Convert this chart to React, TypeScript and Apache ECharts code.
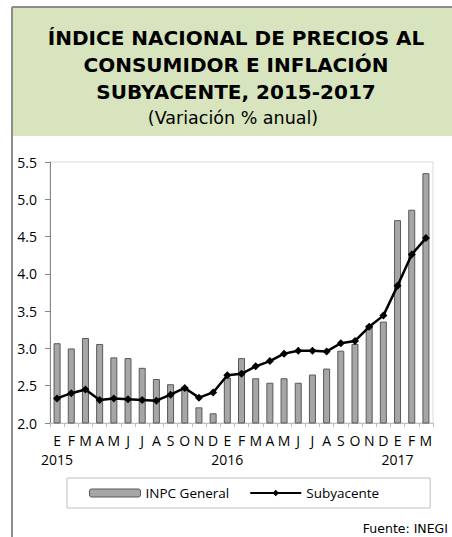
import React, { useEffect, useRef } from "react";
import * as echarts from "echarts";

const months = ["E", "F", "M", "A", "M", "J", "J", "A", "S", "O", "N", "D",
  "E", "F", "M", "A", "M", "J", "J", "A", "S", "O", "N", "D",
  "E", "F", "M"];
const years: Record<number, string> = { 0: "2015", 12: "2016", 24: "2017" };
const inpcGeneral = [3.07, 3.00, 3.14, 3.06, 2.88, 2.87, 2.74, 2.59, 2.52, 2.48, 2.21, 2.13,
  2.61, 2.87, 2.60, 2.54, 2.60, 2.54, 2.65, 2.73, 2.97, 3.06, 3.31, 3.36,
  4.72, 4.86, 5.35];
const subyacente = [2.33, 2.40, 2.45, 2.31, 2.33, 2.32, 2.31, 2.30, 2.38, 2.47, 2.34, 2.41,
  2.64, 2.66, 2.76, 2.83, 2.93, 2.97, 2.97, 2.96, 3.07, 3.10, 3.29, 3.44,
  3.84, 4.26, 4.48];
const titleLines = ["ÍNDICE NACIONAL DE PRECIOS AL", "CONSUMIDOR E INFLACIÓN", "SUBYACENTE, 2015-2017"];
const subtitle = "(Variación % anual)";
const source = "Fuente: INEGI";

const FONT = "'Open Sans', Lato, sans-serif";
const TFONT = "'DejaVu Sans', 'Open Sans', sans-serif";

export default function App() {
  const ref = useRef<HTMLDivElement>(null);
  useEffect(() => {
    if (!ref.current) return;
    const chart = echarts.init(ref.current, null, { renderer: "svg" });
    const titleY = [38, 65, 92];
    chart.setOption({
      animation: false,
      textStyle: { fontFamily: FONT },
      graphic: [
        { type: "rect", shape: { x: 12, y: 7, width: 445, height: 129 }, style: { fill: "#d7e4bd" }, z: 0 },
        { type: "line", shape: { x1: 12, y1: 7, x2: 452, y2: 7 }, style: { stroke: "#8c8c8c", lineWidth: 2 }, z: 1 },
        { type: "line", shape: { x1: 12, y1: 7, x2: 12, y2: 537 }, style: { stroke: "#8c8c8c", lineWidth: 2 }, z: 1 },
        ...titleLines.map((t, i) => ({
          type: "text", x: 236, y: titleY[i], z: 2,
          style: { text: t, fontFamily: TFONT, fontWeight: "bold", fontSize: 20, fill: "#000", align: "center", verticalAlign: "middle" },
        })),
        { type: "text", x: 233, y: 118, z: 2,
          style: { text: subtitle, fontFamily: TFONT, fontSize: 17.5, fill: "#000", align: "center", verticalAlign: "middle" } },
        { type: "text", x: 448, y: 528, z: 2,
          style: { text: source, fontFamily: TFONT, fontSize: 12.5, fill: "#000", align: "right", verticalAlign: "middle" } },
      ],
      grid: { left: 50, right: 19, top: 162, bottom: 114, show: true, borderColor: "#d9d9d9", borderWidth: 1 },
      legend: {
        left: 67, top: 478,
        padding: [8, 51, 8, 22],
        borderColor: "#bfbfbf", borderWidth: 1,
        itemGap: 20,
        itemWidth: 51, itemHeight: 8,
        textStyle: { fontFamily: FONT, fontSize: 13.5, color: "#000" },
        data: [
          { name: "INPC General", itemStyle: { color: "#a6a6a6", borderColor: "#595959", borderWidth: 1 } },
          { name: "Subyacente" },
        ],
      },
      xAxis: {
        type: "category",
        data: months,
        axisLine: { lineStyle: { color: "#bfbfbf", width: 1 } },
        axisTick: { show: true, length: 4, lineStyle: { color: "#bfbfbf" } },
        axisLabel: {
          interval: 0, margin: 8, color: "#000", fontSize: 14, fontFamily: FONT, lineHeight: 19,
          formatter: (v: string, i: number) => (years[i] ? v + "\n" + years[i] : v),
        },
        splitLine: { show: false },
      },
      yAxis: {
        type: "value",
        min: 2, max: 5.5, interval: 0.5,
        axisLine: { show: true, lineStyle: { color: "#868686", width: 1 } },
        axisTick: { show: true, length: 5, lineStyle: { color: "#868686" } },
        axisLabel: { margin: 13, color: "#000", fontSize: 14, fontFamily: FONT, formatter: (v: number) => v.toFixed(1) },
        splitLine: { show: false },
      },
      series: [
        {
          name: "INPC General", type: "bar", data: inpcGeneral, barWidth: 7,
          itemStyle: { color: "#a6a6a6", borderColor: "#595959", borderWidth: 1 },
        },
        {
          name: "Subyacente", type: "line", data: subyacente,
          symbol: "diamond", symbolSize: 8,
          lineStyle: { color: "#000", width: 2.5 },
          itemStyle: { color: "#000" },
        },
      ],
    });
    return () => chart.dispose();
  }, []);
  return <div ref={ref} style={{ position: "absolute", left: 0, top: 0, width: 452, height: 537 }} />;
}
